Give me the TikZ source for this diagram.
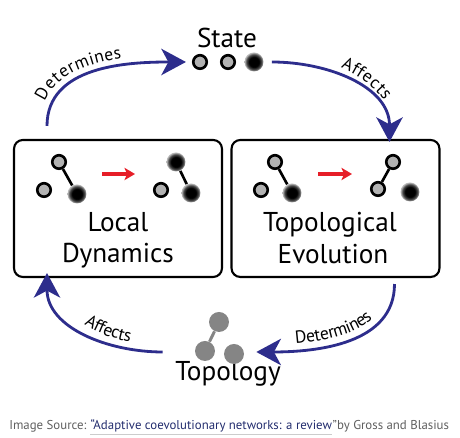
\documentclass[tikz,border=0pt]{standalone}
\usepackage{fontspec}
\setmainfont{PT Sans}
\usetikzlibrary{arrows.meta,decorations.text}
\definecolor{loopblue}{RGB}{45,45,140}
\definecolor{swapred}{RGB}{230,30,40}
\definecolor{linkblue}{RGB}{35,45,110}
\definecolor{notegray}{RGB}{95,95,95}
\newcommand\labfont{\fontsize{10}{12}\selectfont}
\pgfdeclareradialshading{blurdot}{\pgfpoint{0bp}{0bp}}{color(0bp)=(black); color(13bp)=(black); color(20bp)=(black!70); color(25bp)=(black!25); color(50bp)=(black!25)}

\begin{document}
\begin{tikzpicture}[x=0.02cm,y=0.02cm,
    box/.style={rectangle,draw=black,line width=1.2pt,rounded corners=5pt,minimum width=4.16cm,minimum height=2.74cm},
    gnode/.style={circle,draw=black,line width=1.5pt,fill=black!30,minimum size=0.27cm,inner sep=0pt},
    bnode/.style={circle,shading=blurdot,minimum size=0.38cm,inner sep=0pt},
    tnode/.style={circle,fill=black!48,minimum size=0.4cm,inner sep=0pt},
    edge/.style={line width=1.5pt},
    flow/.style={draw=loopblue,line width=1.6pt,-{Stealth[length=14pt,width=15pt,inset=4pt]}},
    swap/.style={draw=swapred,line width=1.8pt,-{Stealth[length=6pt,width=7pt,inset=1.5pt]}},
    big/.style={font=\fontsize{15.5}{18}\selectfont,anchor=base},
    flowtext/.style 2 args={decorate,decoration={text along path,text={|\labfont|#1},text align={align=left,left indent=#2},raise=4pt}}]
    \useasboundingbox (0,0) rectangle (460,438);

      % main modules
      \node[box] (ld) at (118,229.5) {};
      \node[box] (te) at (335.5,229.5) {};
      \node[big] (ldt1) at (118,206) {Local};
      \node[big] (ldt2) at (118,175) {Dynamics};
      \node[big] (tet1) at (330,206) {Topological};
      \node[big] (tet2) at (333,174) {Evolution};
      \node[big] (st) at (227,390) {State};
      \node[big] (tp) at (228,57) {Topology};

      % local dynamics
      \node[gnode] (l1) at (59,276) {};
      \node[gnode] (l2) at (44,248) {};
      \node[bnode] (l3) at (77,244) {};
      \draw[edge] (l1) -- (l3);
      \coordinate (la) at (102,264);
      \coordinate (lb) at (135,264);
      \draw[swap] (la) -- (lb);
      \node[bnode] (l4) at (176,276) {};
      \node[gnode] (l5) at (161,248) {};
      \node[bnode] (l6) at (191,245) {};
      \draw[edge] (l4) -- (l6);

      % topological evolution
      \node[gnode] (r1) at (275,276) {};
      \node[gnode] (r2) at (261,248) {};
      \node[bnode] (r3) at (292,245) {};
      \draw[edge] (r1) -- (r3);
      \coordinate (ra) at (318,264);
      \coordinate (rb) at (352,264);
      \draw[swap] (ra) -- (rb);
      \node[gnode] (r4) at (393,276) {};
      \node[gnode] (r5) at (378,249) {};
      \node[bnode] (r6) at (410,246) {};
      \draw[edge] (r4) -- (r5);

      % state
      \node[gnode] (s1) at (200,376) {};
      \node[gnode] (s2) at (228,376) {};
      \node[bnode] (s3) at (254,376) {};

      % topology
      \node[tnode] (t1) at (219,116) {};
      \node[tnode] (t2) at (205,87) {};
      \node[tnode] (t3) at (234,84) {};
      \draw[line width=1.7pt,draw=black!48] (t1) -- (t2);

      % loop
      \draw[flow] ([shift={(-71,13)}]ld.north) to[out=90,in=180] ([shift={(-6,0)}]s1.west);
      \path[flowtext={Determines}{0.42cm}] ([shift={(-71,13)}]ld.north) to[out=90,in=180] ([shift={(-6,0)}]s1.west);
      \draw[flow] ([shift={(8,0)}]s3.east) to[out=0,in=90] ([shift={(54,-3)}]te.north);
      \path[flowtext={Affects}{1.35cm}] ([shift={(8,0)}]s3.east) to[out=0,in=90] ([shift={(54,-3)}]te.north);
      \draw[flow] ([shift={(59,-6)}]te.south) to[out=-90,in=0] ([shift={(12,2)}]t3.east);
      \path[flowtext={Determines}{0.8cm}] ([shift={(12,2)}]t3.east) to[out=0,in=-90] ([shift={(59,-6)}]te.south);
      \draw[flow] ([shift={(-32,-1)}]t2.west) to[out=180,in=-90] ([shift={(-71,5)}]ld.south);
      \path[flowtext={Affects}{1.4cm}] ([shift={(-71,5)}]ld.south) to[out=-90,in=180] ([shift={(-32,-1)}]t2.west);

      % source
      \node[anchor=base west,inner sep=0pt,font=\fontsize{7.3}{9}\selectfont,text=notegray] (src1) at (9,8) {Image Source:};
      \node[anchor=base west,inner sep=0pt,font=\fontsize{7.3}{9}\selectfont,text=linkblue] (src2) at ([xshift=2pt]src1.base east) {“Adaptive coevolutionary networks: a review};
      \node[anchor=base west,inner sep=0pt,font=\fontsize{7.3}{9}\selectfont,text=notegray] (src3) at (src2.base east) {”by Gross and Blasius};
      \draw[black!20,line width=0.6pt] ([yshift=-2.5pt]src2.base west) -- ([yshift=-2.5pt]src2.base east);

\end{tikzpicture}
\end{document}
